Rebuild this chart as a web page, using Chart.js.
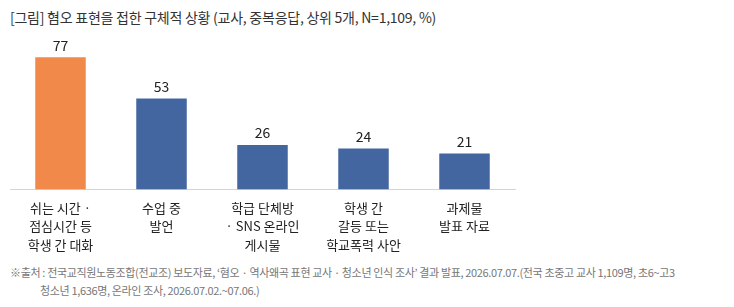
<!DOCTYPE html>
<html>
<head>
<meta charset="utf-8">
<script src="https://cdn.jsdelivr.net/npm/chart.js@4/dist/chart.umd.min.js"></script>
<style>
	body { margin: 0; background: #fff; font-family: "Noto Sans CJK KR", "Noto Sans", sans-serif; }
	#wrap { position: relative; width: 734px; height: 307px; }
	#title { position: absolute; left: 10px; top: 7px; font-size: 14px; color: #333; letter-spacing: -0.25px; }
	#box { position: absolute; left: 0; top: 0; width: 525px; height: 255px; }
	#note { position: absolute; left: 10px; top: 263px; font-size: 11px; line-height: 18px; color: #777; letter-spacing: -0.35px; }
	#note .l2 { padding-left: 30px; }
</style>
</head>
<body>
<div id="wrap">
	<div id="title">[그림] 혐오 표현을 접한 구체적 상황 (교사, 중복응답, 상위 5개, N=1,109, %)</div>
	<div id="box"><canvas id="myChart"></canvas></div>
	<div id="note">
		<div>※출처 : 전국교직원노동조합(전교조) 보도자료, ‘혐오 · 역사왜곡 표현 교사 · 청소년 인식 조사’ 결과 발표, 2026.07.07.(전국 초중고 교사 1,109명, 초6~고3</div>
		<div class="l2">청소년 1,636명, 온라인 조사, 2026.07.02.~07.06.)</div>
	</div>
</div>
<script>
const categories = [
	["쉬는 시간 ·", "점심시간 등", "학생 간 대화"],
	["수업 중", "발언"],
	["학급 단체방", "· SNS 온라인", "게시물"],
	["학생 간", "갈등 또는", "학교폭력 사안"],
	["과제물", "발표 자료"]
];
const values = [77, 53, 26, 24, 21];
const barColors = ["#F0894A", "#4366A0", "#4366A0", "#4366A0", "#4366A0"];

// draw the numbers above each bar
const valueLabels = {
	id: "valueLabels",
	afterDatasetsDraw(chart) {
		const ctx = chart.ctx;
		const meta = chart.getDatasetMeta(0);
		ctx.save();
		ctx.font = "14px 'Noto Sans CJK KR', sans-serif";
		ctx.fillStyle = "#222";
		ctx.textAlign = "center";
		ctx.textBaseline = "bottom";
		meta.data.forEach((bar, i) => {
			ctx.fillText(values[i], bar.x, bar.y - 5);
		});
		ctx.restore();
	}
};

const myChartRef = document.getElementById("myChart").getContext("2d");
new Chart(myChartRef, {
	type: "bar",
	data: {
		labels: categories,
		datasets: [
			{
				data: values,
				backgroundColor: barColors,
				barPercentage: 0.5,
				categoryPercentage: 1
			}
		]
	},
	options: {
		responsive: true,
		maintainAspectRatio: false,
		animation: false,
		layout: { padding: { left: 10, right: 10, top: 35, bottom: 0 } },
		plugins: {
			legend: { display: false },
			tooltip: { enabled: false }
		},
		scales: {
			x: {
				grid: { display: false },
				border: { color: "#d4d4d4", width: 1 },
				ticks: {
					color: "#222",
					padding: 1,
					maxRotation: 0,
					autoSkip: false,
					font: { family: "'Noto Sans CJK KR', sans-serif", size: 13, lineHeight: 1.42 }
				}
			},
			y: {
				display: false,
				min: 0,
				max: 90
			}
		}
	},
	plugins: [valueLabels]
});
</script>
</body>
</html>
